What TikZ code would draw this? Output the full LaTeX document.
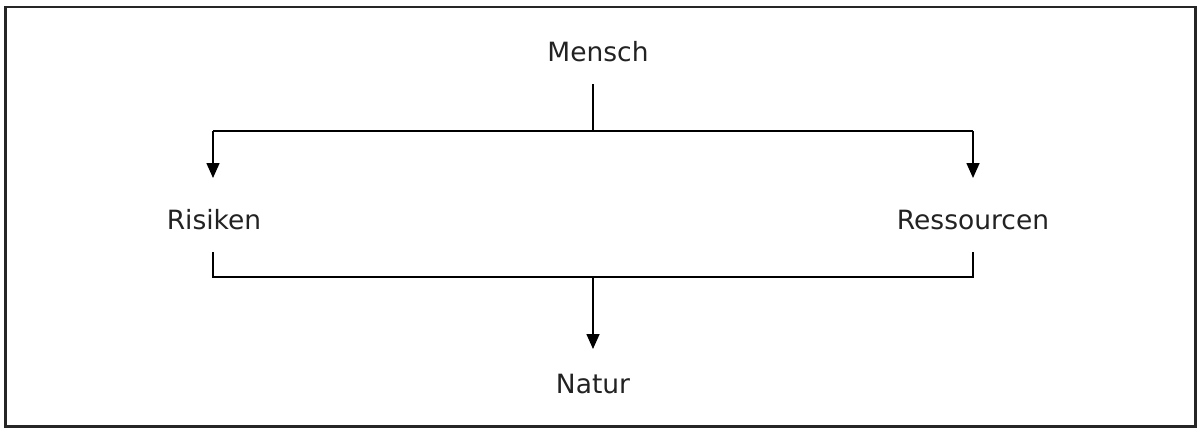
\documentclass[tikz,border=0pt]{standalone}
\usepackage{fontspec}
\setmainfont{DejaVu Sans}
\usetikzlibrary{arrows.meta}
\definecolor{txt}{HTML}{222222}
\definecolor{frm}{HTML}{262626}
\begin{document}
\begin{tikzpicture}[x=1pt,y=-1pt,
  lbl/.style={font=\fontsize{26.5}{31}\selectfont, text=txt, inner sep=0pt, anchor=center},
  conn/.style={draw=black, line width=1.6pt},
  arr/.style={conn, -{Triangle[width=13pt,length=15pt]}}]
\useasboundingbox (0,0) rectangle (1201,428);
\draw[frm, line width=2.6pt] (5.5,7) rectangle (1195.5,426.5);
\node[lbl] (mensch) at (598,52) {Mensch};
\node[lbl] (risiken) at (214,220) {Risiken};
\node[lbl] (ress) at (973,220) {Ressourcen};
\node[lbl] (natur) at (593,384) {Natur};
\coordinate (mTop) at (593,84);
\coordinate (mJ) at (593,131);
\coordinate (lA) at (213,131);
\coordinate (rA) at (973,131);
\coordinate (lT) at (213,178);
\coordinate (rT) at (973,178);
\coordinate (lB) at (213,252);
\coordinate (rB) at (973,252);
\coordinate (lC) at (213,277);
\coordinate (rC) at (973,277);
\coordinate (nJ) at (593,277);
\coordinate (nT) at (593,349);
\draw[conn] (mTop) -- (mJ);
\draw[conn] (lA) -- (rA);
\draw[arr] (lA) -- (lT);
\draw[arr] (rA) -- (rT);
\draw[conn] (lB) -- (lC) -- (rC) -- (rB);
\draw[arr] (nJ) -- (nT);
\end{tikzpicture}
\end{document}
